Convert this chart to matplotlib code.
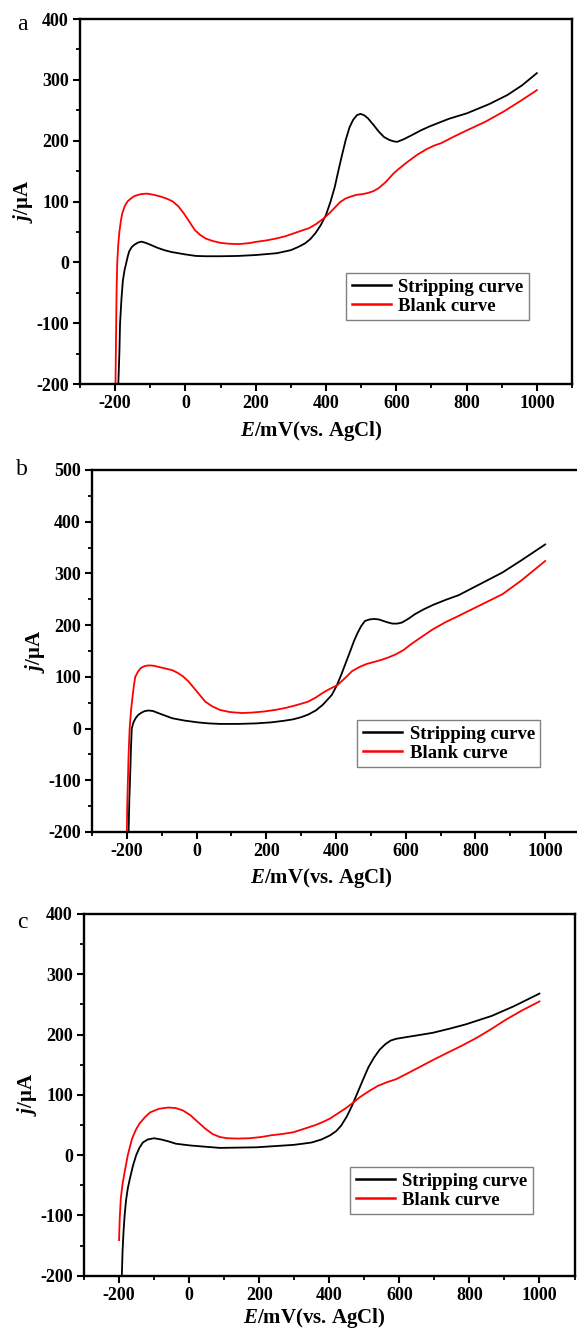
import matplotlib.pyplot as plt
from matplotlib.ticker import MultipleLocator

# Шрифт: Times-подобный, жирный
plt.rcParams['font.family'] = 'Liberation Serif'
plt.rcParams['font.weight'] = 'bold'
plt.rcParams['axes.unicode_minus'] = False
plt.rcParams['mathtext.fontset'] = 'custom'
plt.rcParams['mathtext.it'] = 'Liberation Serif:italic:bold'
plt.rcParams['mathtext.rm'] = 'Liberation Serif:bold'

# ---- панель a ----
a_strip_x = [-191, -188, -186, -182, -178, -173, -168, -164, -160, -153, -145, -135, -125, -113, -100,
             -80, -60, -40, -20, 0, 30, 60, 100, 150, 200, 260, 300, 320, 340, 355, 370, 385, 400,
             413, 425, 435, 445, 456, 467, 477, 488, 498, 508, 519, 535, 550, 565, 581, 592, 602,
             620, 644, 670, 697, 750, 801, 864, 916, 958, 1000]
a_strip_y = [-200, -150, -100, -60, -30, -12, 0, 10, 18, 25, 29, 32.5, 34, 32, 29,
             24, 20, 17, 15, 13, 10.5, 10, 10, 10.5, 12, 15, 20, 25, 31, 38, 48, 61, 78,
             100, 124, 150, 175, 201, 222, 234, 242, 244, 242, 237, 226, 215, 206, 201, 199, 198,
             202, 209, 217, 224, 236, 245, 260, 275, 291, 311]
a_blank_x = [-199, -198, -197, -196, -194, -191, -188, -184, -180, -173, -165, -155, -145, -128, -110,
             -90, -70, -50, -36, -20, -4, 12, 27, 42, 58, 78, 100, 125, 152, 180, 205, 230, 257,
             285, 310, 330, 351, 372, 393, 410, 425, 440, 456, 470, 487, 503, 519, 535, 550, 570,
             592, 612, 634, 660, 686, 708, 728, 765, 801, 853, 906, 958, 1000]
a_blank_y = [-200, -150, -100, -50, 0, 30, 50, 67, 80, 92, 100, 105, 109, 112, 113,
             111, 108, 104, 100, 92, 80, 66, 53, 45, 39, 35, 32, 30.5, 30, 31.5, 34, 36, 39,
             43, 48, 52, 56, 63, 72, 81, 90, 99, 105, 108, 111, 112, 114, 117, 122, 132,
             146, 156, 166, 177, 186, 192, 196, 207, 217, 231, 248, 267, 283]

# ---- панель b ----
b_strip_x = [-195, -193, -190, -188, -186, -181, -175, -168, -160, -150, -139, -125, -110, -90, -70,
             -35, 3, 35, 67, 120, 170, 214, 250, 278, 300, 320, 342, 362, 388, 402, 415, 428, 441,
             452, 462, 472, 483, 496, 510, 523, 536, 550, 562, 576, 589, 607, 626, 650, 678, 715,
             752, 815, 878, 931, 1000]
b_strip_y = [-200, -140, -80, -35, 0, 12, 20, 26, 30, 33.5, 35, 34, 30, 25, 20,
             15.5, 12, 10, 9, 9, 10, 12, 15, 18, 22, 27, 35, 46, 65, 83, 104, 127, 150,
             170, 185, 198, 208, 211, 212, 211, 208, 205, 203, 203, 205, 212, 221, 230, 239, 249,
             258, 280, 302, 325, 356]
b_blank_x = [-200, -199, -197, -195, -192, -188, -184, -180, -176, -168, -160, -150, -140, -130, -120,
             -95, -70, -55, -39, -23, -7, 9, 25, 45, 67, 95, 130, 160, 193, 225, 256, 290, 320,
             342, 362, 383, 404, 425, 446, 467, 488, 510, 531, 552, 573, 594, 615, 645, 678, 715,
             752, 815, 878, 931, 1000]
b_blank_y = [-200, -150, -100, -50, 0, 35, 60, 82, 100, 110, 117, 120.5, 122, 122, 121,
             117, 113, 108, 101, 91, 78, 65, 52, 43, 36, 32, 30, 31, 33, 36, 40, 46, 52,
             60, 69, 77, 84, 97, 111, 119, 125, 129, 133, 138, 144, 152, 163, 177, 192, 206,
             218, 239, 260, 286, 324]

# ---- панель c ----
c_strip_x = [-192, -190, -187, -184, -180, -175, -169, -160, -151, -142, -132, -118, -100, -80, -60,
             -38, -18, 4, 45, 88, 140, 193, 245, 298, 325, 350, 378, 403, 420, 434, 450, 465, 481,
             497, 512, 528, 544, 560, 575, 591, 612, 633, 665, 696, 745, 790, 864, 927, 1000]
c_strip_y = [-200, -160, -125, -100, -75, -55, -39, -17, 0, 12, 21, 26, 28, 26, 23,
             19, 17.5, 16, 14, 12, 12.5, 13, 15, 17, 19, 21, 26, 33, 40, 49, 64, 82, 104,
             126, 146, 162, 175, 184, 190, 193, 195, 197, 200, 203, 210, 217, 231, 247, 268]
c_blank_x = [-200, -198, -195, -190, -184, -175, -163, -152, -142, -126, -111, -85, -59, -38, -17,
             4, 25, 46, 67, 88, 109, 140, 172, 205, 235, 265, 298, 330, 361, 382, 403, 424, 445,
             466, 487, 513, 539, 565, 591, 628, 664, 700, 738, 780, 822, 862, 905, 950, 1000]
c_blank_y = [-141, -105, -72, -48, -28, 0, 27, 42, 52, 63, 71, 77, 79, 78, 74,
             66, 55, 44, 35, 30, 28, 27.5, 28, 30, 33, 35, 38, 44, 50, 55, 61, 69, 77,
             86, 96, 106, 115, 121, 126, 137, 148, 159, 170, 182, 195, 209, 225, 240, 255]

W, H = 577, 1330


def plot_panel(fig, rect, xs, ys, xb, yb, ylim, letter, letter_xy, leg_xy, xlab_y):
    l, t, r, b = rect
    ax = fig.add_axes([l / W, 1 - b / H, (r - l) / W, (b - t) / H])
    ax.plot(xs, ys, color='black', linewidth=1.3, label='Stripping curve')
    ax.plot(xb, yb, color='#ff0000', linewidth=1.3, label='Blank curve')
    ax.set_xlim(-300, 1100)
    ax.set_ylim(*ylim)
    ax.xaxis.set_major_locator(MultipleLocator(200))
    ax.xaxis.set_minor_locator(MultipleLocator(100))
    ax.yaxis.set_major_locator(MultipleLocator(100))
    ax.yaxis.set_minor_locator(MultipleLocator(50))
    for s in ax.spines.values():
        s.set_linewidth(1.7)
    ax.tick_params(which='major', direction='out', length=5, width=1.5, labelsize=13, pad=3)
    ax.tick_params(which='minor', direction='out', length=3, width=1.3)
    for lab in ax.get_xticklabels() + ax.get_yticklabels():
        lab.set_fontweight('bold')
    ax.set_xlabel(r'$E$/mV(vs. AgCl)', fontsize=15, fontweight='bold')
    ax.xaxis.set_label_coords(0.47, xlab_y)
    ax.set_ylabel('$j$/μA', fontsize=15, fontweight='bold', labelpad=1)
    leg = ax.legend(loc='upper left', bbox_to_anchor=(leg_xy[0] / W, 1 - leg_xy[1] / H),
                    bbox_transform=fig.transFigure, borderaxespad=0, fancybox=False,
                    edgecolor='#808080', framealpha=1, prop={'size': 13.5, 'weight': 'bold'},
                    handlelength=2.1, handletextpad=0.4, borderpad=0.3, labelspacing=0.1)
    leg.get_frame().set_linewidth(1.0)
    for ln in leg.get_lines():
        ln.set_linewidth(1.8)
    fig.text(letter_xy[0] / W, 1 - letter_xy[1] / H, letter, fontsize=17, fontweight='normal',
             ha='center', va='center')
    return ax


fig = plt.figure(figsize=(W / 100, H / 100), dpi=100)
fig.patch.set_facecolor('white')

plot_panel(fig, (80, 19, 572, 384), a_strip_x, a_strip_y, a_blank_x, a_blank_y,
           (-200, 400), 'a', (22, 25), (346, 273), -0.095)
plot_panel(fig, (92, 470, 580, 832), b_strip_x, b_strip_y, b_blank_x, b_blank_y,
           (-200, 500), 'b', (22, 470), (357, 720), -0.095)
plot_panel(fig, (84, 914, 574.5, 1275.7), c_strip_x, c_strip_y, c_blank_x, c_blank_y,
           (-200, 400), 'c', (22, 922), (350, 1167), -0.085)

fig.savefig('out.png', dpi=100)
